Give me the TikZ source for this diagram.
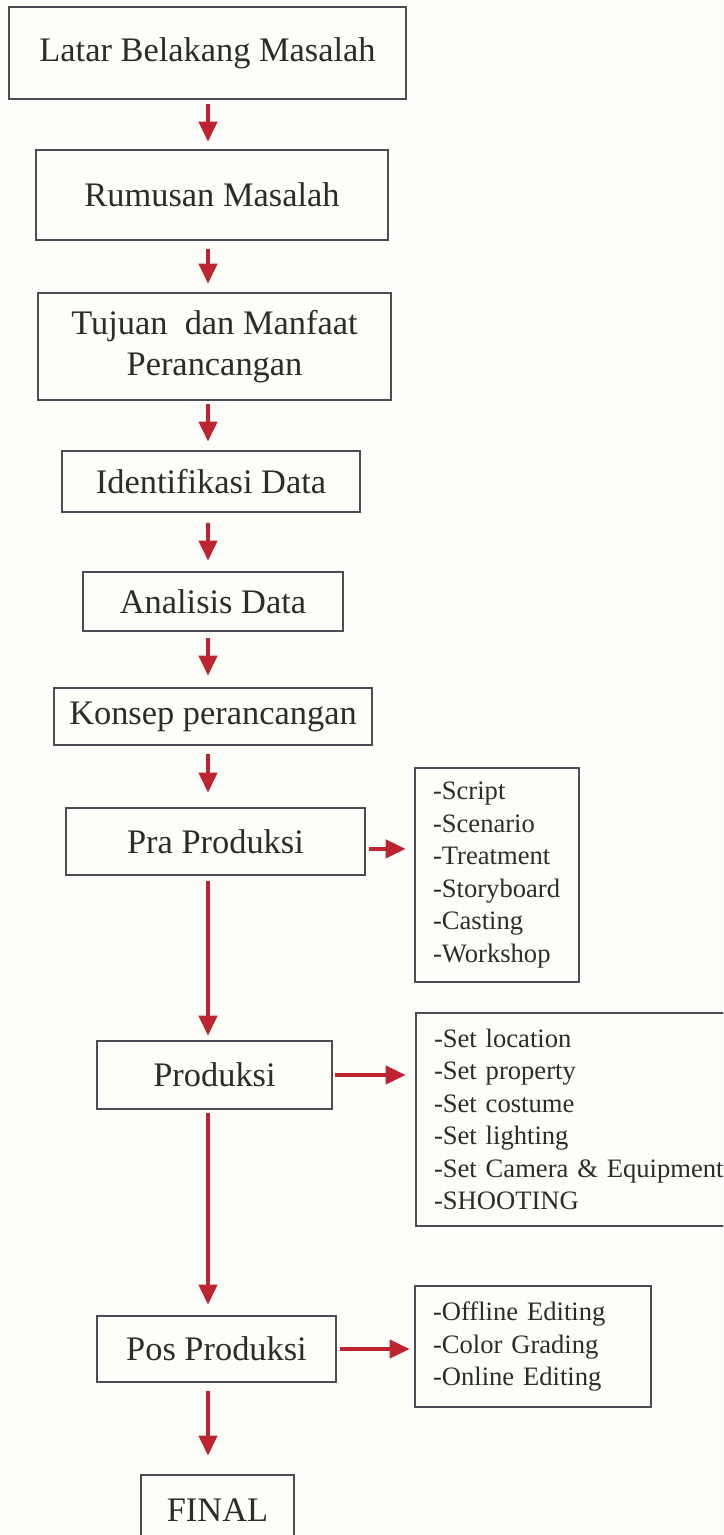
\documentclass[tikz,border=0pt]{standalone}
\usepackage{fontspec}
\setmainfont{Liberation Serif}
\usetikzlibrary{arrows.meta}
\definecolor{bx}{HTML}{4C4C56}
\definecolor{ar}{HTML}{BE2430}
\definecolor{tx}{HTML}{2C2C2C}
\definecolor{bg}{HTML}{FDFDF9}
\begin{document}
\begin{tikzpicture}[x=0.5pt,y=-0.5pt,
  mbox/.style={draw=bx, line width=1.3pt, inner sep=0pt, font=\fontsize{17.2}{20.5}\selectfont, text=tx, align=center},
  lbox/.style={draw=bx, line width=1.3pt, inner xsep=9pt, inner ysep=0pt, font=\fontsize{13.3}{16.25}\selectfont, text=tx, align=left},
  arr/.style={draw=ar, line width=2pt, -{Triangle[length=10pt,width=9pt]}}]
\useasboundingbox (0,0) rectangle (723,1535);
\fill[bg] (0,0) rectangle (723,1535);
\clip (0,0) rectangle (723,1535);
\coordinate (ax) at (208,0);
% main boxes
\node[mbox, minimum width=198.5pt, minimum height=46pt] (b1) at (207.5,53) {Latar Belakang Masalah};
\node[mbox, minimum width=176pt, minimum height=45pt] (b2) at (212,195) {Rumusan Masalah};
\node[mbox, minimum width=176.5pt, minimum height=53.5pt] (b3) at (214.5,346.5) {Tujuan~ dan Manfaat\\Perancangan};
\node[mbox, minimum width=149pt, minimum height=30.5pt] (b4) at (211,481.5) {Identifikasi Data};
\node[mbox, minimum width=130pt, minimum height=29.5pt] (b5) at (213,601.5) {Analisis Data};
\node[mbox, minimum width=159pt, minimum height=28.5pt] (b6) at (213,716.5) {Konsep perancangan};
\node[mbox, minimum width=149.5pt, minimum height=33.5pt] (b7) at (215.5,841.5) {Pra Produksi};
\node[mbox, minimum width=117.5pt, minimum height=34pt] (b8) at (214.5,1075) {Produksi};
\node[mbox, minimum width=119.5pt, minimum height=33pt] (b9) at (216.5,1349) {Pos Produksi};
\node[mbox, minimum width=76.5pt, minimum height=35pt] (b10) at (217.5,1510) {FINAL};
% list boxes
\node[lbox, text width=64pt, minimum height=107pt] (l1) at (497,875)
  {\mbox{-Script}\\\mbox{-Scenario}\\\mbox{-Treatment}\\\mbox{-Storyboard}\\\mbox{-Casting}\\\mbox{-Workshop}};
\node[lbox, text width=154pt, minimum height=106.5pt] (l2) at (588,1119.5)
  {\mbox{-Set location}\\\mbox{-Set property}\\\mbox{-Set costume}\\\mbox{-Set lighting}\\\mbox{-Set Camera \& Equipment}\\\mbox{-SHOOTING}};
\node[lbox, text width=100pt, minimum height=60.5pt] (l3) at (533,1346.5)
  {\mbox{-Offline Editing}\\\mbox{-Color Grading}\\\mbox{-Online Editing}};
% vertical arrows
\draw[arr, shorten <=2pt, shorten >=3.5pt] (b1.south -| ax) -- (b2.north -| ax);
\draw[arr, shorten <=4pt, shorten >=4pt] (b2.south -| ax) -- (b3.north -| ax);
\draw[arr, shorten <=1.5pt, shorten >=4pt] (b3.south -| ax) -- (b4.north -| ax);
\draw[arr, shorten <=5pt, shorten >=5pt] (b4.south -| ax) -- (b5.north -| ax);
\draw[arr, shorten <=3pt, shorten >=5.5pt] (b5.south -| ax) -- (b6.north -| ax);
\draw[arr, shorten <=4pt, shorten >=7pt] (b6.south -| ax) -- (b7.north -| ax);
\draw[arr, shorten <=2.5pt, shorten >=2pt] (b7.south -| ax) -- (b8.north -| ax);
\draw[arr, shorten <=1.5pt, shorten >=5pt] (b8.south -| ax) -- (b9.north -| ax);
\draw[arr, shorten <=4pt, shorten >=9pt] (b9.south -| ax) -- (b10.north -| ax);
% horizontal arrows
\coordinate (p7) at ([yshift=-3.7pt]b7.east);
\draw[arr, shorten <=1.5pt, shorten >=4pt] (p7) -- (p7 -| l1.west);
\draw[arr, shorten <=0.8pt, shorten >=4.5pt] (b8.east) -- (b8.east -| l2.west);
\draw[arr, shorten <=1.5pt, shorten >=2pt] (b9.east) -- (b9.east -| l3.west);
\end{tikzpicture}
\end{document}
